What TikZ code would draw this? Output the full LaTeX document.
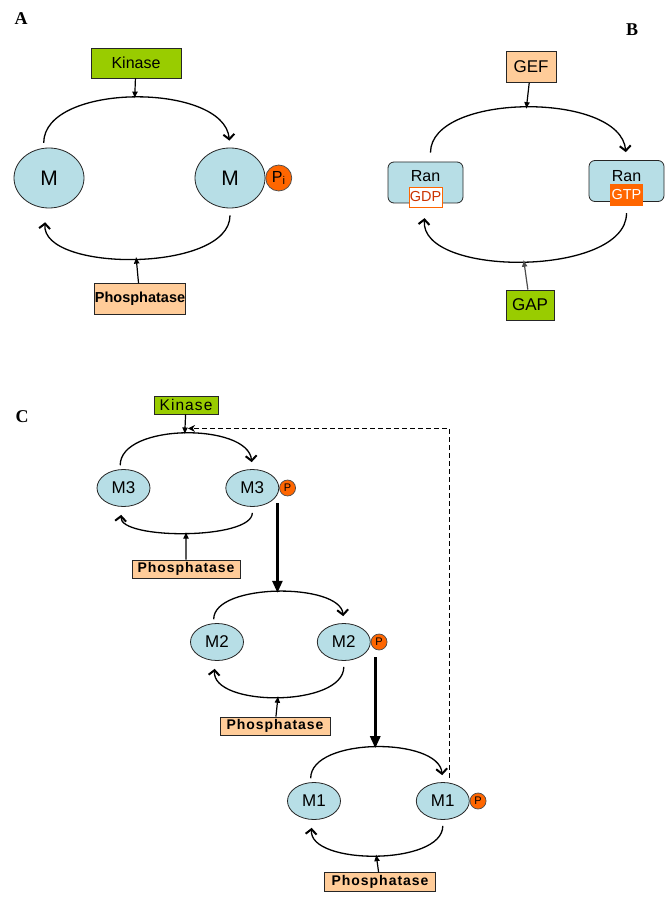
\documentclass[tikz,border=0pt]{standalone}
\usepackage{fontspec}
\setmainfont{Liberation Serif}
\setsansfont{Liberation Sans}
\newfontfamily\widesans[LetterSpace=7]{Liberation Sans}
\usetikzlibrary{shapes.geometric, positioning, arrows.meta}

\definecolor{molblue}{RGB}{183,222,230}
\definecolor{kingreen}{RGB}{153,204,0}
\definecolor{peach}{RGB}{255,204,153}
\definecolor{porange}{RGB}{255,102,0}
\definecolor{gdpred}{RGB}{204,51,0}

\newcommand{\fsz}[1]{\fontsize{#1}{#1}\selectfont}

\tikzset{
  mol/.style={ellipse, draw=black!85, line width=0.8pt, fill=molblue, inner sep=0pt},
  cmol/.style={mol, minimum width=53pt, minimum height=37pt, font=\sffamily\fsz{17}},
  kinbox/.style={rectangle, draw=black!85, line width=0.8pt, fill=kingreen, inner sep=0pt},
  phosbox/.style={rectangle, draw=black!85, line width=0.8pt, fill=peach, inner sep=0pt},
  pdot/.style={circle, draw=black!70, line width=0.7pt, fill=porange, inner sep=0pt},
  ranbox/.style={rectangle, rounded corners=6pt, draw=black!85, line width=0.8pt, fill=molblue,
    minimum width=75pt, minimum height=41pt},
  cyc/.style={-{Straight Barb[length=5pt, width=11pt, line width=2pt]}, line width=1.3pt},
  nudge/.style={-{Latex[length=7pt, width=6pt]}, line width=1.2pt},
  bigarr/.style={-{Triangle[length=12pt, width=10pt]}, line width=2.6pt},
  panel/.style={font=\rmfamily\bfseries\fsz{18}}
}

\begin{document}
\begin{tikzpicture}[x=1pt, y=1pt]
\useasboundingbox (0,0) rectangle (671,-901);

% panel A
\node[panel] (la) at (21,-19) {A};
\node[mol, minimum width=70pt, minimum height=60pt, font=\sffamily\fsz{21}] (ma1) at (49,-178) {M};
\node[mol, minimum width=70pt, minimum height=60pt, font=\sffamily\fsz{21}] (ma2) at (230,-178) {M};
\node[pdot, minimum size=26pt, font=\sffamily\fsz{16}, right=0pt of ma2] (pa) {P\textsubscript{i}};
\node[kinbox, minimum width=90pt, minimum height=30pt, font=\sffamily\fsz{16}] (kina) at (136,-63) {Kinase};
\node[phosbox, minimum width=91pt, minimum height=31pt, font=\sffamily\bfseries\fsz{14.5}] (phosa) at (140,-299) {Phosphatase};

\draw[cyc, shorten <=5pt, shorten >=7pt] (ma1.100) to[out=90, in=95, looseness=0.9] coordinate[pos=0.5] (topa) (ma2.north);
\draw[cyc, shorten <=7pt, shorten >=14pt] (ma2.south) to[out=-90, in=-95, looseness=0.9] coordinate[pos=0.5] (bota) (ma1.265);
\draw[nudge] (kina) -- (topa);
\draw[nudge] (phosa) -- (bota);

% panel B
\node[panel] (lb) at (632,-30) {B};
\node[ranbox] (rand) at (425.5,-182.5) {};
\node[font=\sffamily\fsz{16}] (rtxt1) at ([yshift=6pt]rand.center) {Ran};
\node[draw=porange, fill=white, text=gdpred, minimum width=33pt, minimum height=20pt, inner sep=0pt,
  font=\sffamily\fsz{14.5}] (gdp) at ([yshift=-14.5pt]rand.center) {GDP};
\node[ranbox] (rant) at (626.5,-181) {};
\node[font=\sffamily\fsz{16}] (rtxt2) at ([yshift=5pt]rant.center) {Ran};
\node[fill=porange, text=white, minimum width=33pt, minimum height=22pt, inner sep=0pt,
  font=\sffamily\fsz{14.5}] (gtp) at ([yshift=-14pt]rant.center) {GTP};
\node[phosbox, minimum width=50pt, minimum height=31pt, font=\sffamily\fsz{17}] (gef) at (531,-67) {GEF};
\node[kinbox, minimum width=48pt, minimum height=30pt, font=\sffamily\fsz{17}] (gap) at (530,-305) {GAP};

\draw[cyc, shorten <=9pt, shorten >=8pt] ([xshift=5pt]rand.north) to[out=90, in=95, looseness=0.9] coordinate[pos=0.5] (topb) (rant.north);
\draw[cyc, shorten <=7pt, shorten >=11pt] (gtp.south) to[out=-90, in=-95, looseness=0.9] coordinate[pos=0.5] (botb) (gdp.south);
\draw[nudge] (gef) -- (topb);
\draw[nudge, draw=black!70] (gap) -- (botb);

% panel C: moleculas
\node[panel] (lc) at (22,-417) {C};
\node[cmol] (m3a) at (123.5,-488) {M3};
\node[cmol, right=75pt of m3a] (m3b) {M3};
\node[pdot, minimum size=16pt, font=\sffamily\fsz{11}, right=0pt of m3b] (p3) {P};
\node[cmol] (m2a) at (217,-642) {M2};
\node[cmol, right=73pt of m2a] (m2b) {M2};
\node[pdot, minimum size=16pt, font=\sffamily\fsz{11}, right=0pt of m2b] (p2) {P};
\node[cmol] (m1a) at (314,-801) {M1};
\node[cmol, right=75pt of m1a] (m1b) {M1};
\node[pdot, minimum size=16pt, font=\sffamily\fsz{11}, right=0pt of m1b] (p1) {P};

\node[kinbox, minimum width=64pt, minimum height=18pt, font=\widesans\fsz{15.5}] (kinc) at (186,-405) {Kinase};
\node[phosbox, minimum width=108pt, minimum height=18pt, font=\widesans\bfseries\fsz{14}] (ph3) at (186,-569) {Phosphatase};
\node[phosbox, minimum width=110pt, minimum height=18pt, font=\widesans\bfseries\fsz{14}] (ph2) at (275,-726) {Phosphatase};
\node[phosbox, minimum width=111pt, minimum height=19pt, font=\widesans\bfseries\fsz{14}] (ph1) at (380,-882) {Phosphatase};

% panel C: ciclos
\draw[cyc, shorten <=4pt, shorten >=7pt] (m3a.100) to[out=90, in=95, looseness=0.9] coordinate[pos=0.5] (top3) (m3b.north);
\draw[cyc, shorten <=6pt, shorten >=8pt] (m3b.south) to[out=-90, in=-95, looseness=0.65] coordinate[pos=0.5] (bot3) (m3a.265);
\draw[cyc, shorten <=4pt, shorten >=7pt] (m2a.100) to[out=90, in=95, looseness=0.8] coordinate[pos=0.5] (top2) (m2b.north);
\draw[cyc, shorten <=6pt, shorten >=8pt] (m2b.south) to[out=-90, in=-95, looseness=0.93] coordinate[pos=0.5] (bot2) (m2a.265);
\draw[cyc, shorten <=4pt, shorten >=7pt] (m1a.100) to[out=90, in=95, looseness=0.88] coordinate[pos=0.5] (top1) (m1b.north);
\draw[cyc, shorten <=6pt, shorten >=8pt] (m1b.south) to[out=-90, in=-95, looseness=0.9] coordinate[pos=0.5] (bot1) (m1a.265);

% panel C: flechas
\draw[nudge] (kinc) -- coordinate[pos=0.7] (kinhit) (top3);
\draw[nudge] (ph3) -- (bot3);
\draw[nudge] (ph2) -- (bot2);
\draw[nudge] (ph1) -- (bot1);
\draw[bigarr, shorten <=7pt] (top2 |- p3.south) -- (top2);
\draw[bigarr, shorten <=7pt] (top1 |- p2.south) -- (top1);
\draw[line width=1.6pt, dash pattern=on 5pt off 3pt, -{Stealth[length=7pt, width=7pt]}, shorten <=5pt, shorten >=3pt]
  (m1b.70) |- (kinhit);
\end{tikzpicture}
\end{document}
